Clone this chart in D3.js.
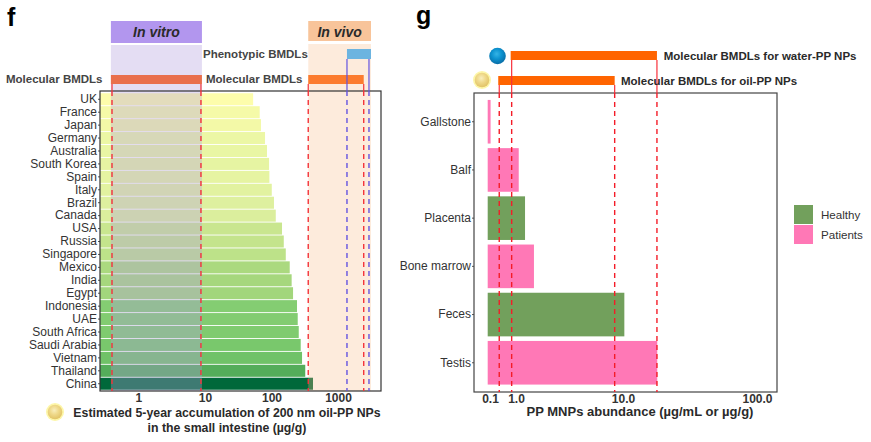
<!DOCTYPE html>
<html lang="en">
<head>
  <meta charset="UTF-8">
  <title>PP NP accumulation and abundance vs BMDLs</title>
  <script src="https://d3js.org/d3.v7.min.js"></script>
  <style>
  html, body { margin: 0; padding: 0; background: #fff; }
  svg { display: block; }
  text { font-family: "Liberation Sans", Arial, sans-serif; }
  .tick text { fill: #333; }
  .bold { font-weight: bold; fill: #2a2a2a; }
  </style>
</head>
<body>
<div id="chart"></div>
<script>
// panel f
var countries = ["UK","France","Japan","Germany","Australia","South Korea","Spain","Italy","Brazil","Canada","USA","Russia","Singapore","Mexico","India","Egypt","Indonesia","UAE","South Africa","Saudi Arabia","Vietnam","Thailand","China"];
var accumulation = [53,66.5,69.5,80,85.6,92,93,101,109,116,144,153,164,188,201,211,242,248,257,275,288,322,421];
var accTicks = [1,10,100,1000];
var colorValues = [53,80,116,144,164,188,211,242,275,288,322,421];
var colorStops = ["#fdfdab","#ecf7a5","#dbee9d","#c9e68f","#bde289","#abd97f","#a2d67c","#84cd72","#79c86c","#70c268","#54ad5a","#00683a"];
var vitroBand = [0.385,9];
var vivoBand = [357,3135];
var vitroMolecular = [0.4,8.7];
var vivoMolecular = [357,2437];
var vivoPhenotypic = [1365,2924];

// panel g
var tissues = ["Gallstone","Balf","Placenta","Bone marrow","Feces","Testis"];
var abundance = [0.12,1.23,1.76,2.51,10.9,33];
var groups = ["Patients","Patients","Healthy","Patients","Healthy","Patients"];
var abundanceTicks = [0.1,1,10,100];
var abundanceLabels = ["0.1","1.0","10.0","100.0"];
var waterBmdl = [0.85,32.8];
var oilBmdl = [0.42,9.3];
var legendGroups = ["Healthy","Patients"];

var w = 871, h = 442;
var red = "#f4333a", purple = "#6353e0";

var svg = d3.select("#chart").append("svg").attr("width", w).attr("height", h);

// little spheres
var defs = svg.append("defs");
function sphere(id, stops) {
  var g = defs.append("radialGradient").attr("id", id).attr("cx", "45%").attr("cy", "38%").attr("r", "60%");
  stops.forEach(function(s, i) {
    g.append("stop").attr("offset", (i / (stops.length - 1) * 100) + "%").attr("stop-color", s);
  });
}
sphere("oil", ["#f9eebc","#efd98a","#e2c468"]);
sphere("water", ["#35b4e6","#0d93d0","#0a6fa8"]);

function drawSphere(cx, cy, id, glow) {
  if (glow) svg.append("circle").attr("cx", cx).attr("cy", cy).attr("r", 9).attr("fill", "#fdf6a8");
  svg.append("circle").attr("cx", cx).attr("cy", cy).attr("r", glow ? 7.3 : 8.3).attr("fill", "url(#" + id + ")");
}

function label(x, y, str, anchor, size, cls) {
  return svg.append("text").attr("x", x).attr("y", y).attr("text-anchor", anchor || "start")
    .attr("font-size", size).attr("class", cls || "bold").text(str);
}

function dashed(x, y0, y1, color) {
  svg.append("line").attr("x1", x).attr("x2", x).attr("y1", y0).attr("y2", y1)
    .attr("stroke", color).attr("stroke-width", 1.4).attr("stroke-dasharray", "5,4");
}
function solid(x, y0, y1, color) {
  svg.append("line").attr("x1", x).attr("x2", x).attr("y1", y0).attr("y2", y1)
    .attr("stroke", color).attr("stroke-width", 1.2);
}

//////////////////// panel f ////////////////////
var fLeft = 100, fRight = 381, fTop = 91, fBottom = 391;
var xF = d3.scaleLog().domain([0.264,4433]).range([fLeft,fRight]);
var yF = d3.scaleBand().domain(countries).range([93,390]).paddingInner(0.07).paddingOuter(0.02);
var colorF = d3.scaleLinear().domain(colorValues).range(colorStops);

svg.append("g").selectAll("rect").data(countries).enter().append("rect")
  .attr("x", fLeft)
  .attr("y", function(d) { return yF(d); })
  .attr("width", function(d, i) { return xF(accumulation[i]) - fLeft; })
  .attr("height", yF.bandwidth())
  .attr("fill", function(d, i) { return colorF(accumulation[i]); });

// shaded in vitro / in vivo ranges run from the header into the panel
svg.append("rect").attr("x", xF(vitroBand[0])).attr("width", xF(vitroBand[1]) - xF(vitroBand[0]))
  .attr("y", 45).attr("height", fBottom - 45).attr("fill", "#b39edc").attr("opacity", 0.35);
svg.append("rect").attr("x", xF(vivoBand[0])).attr("width", xF(vivoBand[1]) - xF(vivoBand[0]))
  .attr("y", 44).attr("height", fBottom - 44).attr("fill", "#f8be8c").attr("opacity", 0.3);

// header boxes
svg.append("rect").attr("x", xF(vitroBand[0])).attr("width", xF(vitroBand[1]) - xF(vitroBand[0]))
  .attr("y", 21).attr("height", 22).attr("fill", "#b296ee");
svg.append("rect").attr("x", xF(vivoBand[0])).attr("width", xF(vivoBand[1]) - xF(vivoBand[0]))
  .attr("y", 21).attr("height", 20).attr("fill", "#f8c49a");
label((xF(vitroBand[0]) + xF(vitroBand[1])) / 2, 37, "In vitro", "middle", 14).attr("font-style", "italic");
label((xF(vivoBand[0]) + xF(vivoBand[1])) / 2, 37, "In vivo", "middle", 14).attr("font-style", "italic");

// BMDL bars
svg.append("rect").attr("x", xF(vitroBand[0])).attr("width", xF(vitroBand[1]) - xF(vitroBand[0]))
  .attr("y", 75).attr("height", 9).attr("fill", "#e96f4c");
svg.append("rect").attr("x", xF(vivoMolecular[0])).attr("width", xF(vivoMolecular[1]) - xF(vivoMolecular[0]))
  .attr("y", 75).attr("height", 9).attr("fill", "#fc7b2e");
svg.append("rect").attr("x", xF(vivoPhenotypic[0])).attr("width", xF(vivoBand[1]) - xF(vivoPhenotypic[0]))
  .attr("y", 49).attr("height", 10).attr("fill", "#6cb4e0");

label(6, 83, "Molecular BMDLs", "start", 11.5).style("fill", "#444");
label(206, 83, "Molecular BMDLs", "start", 11.5).style("fill", "#444");
label(203, 58, "Phenotypic BMDLs", "start", 11.5).style("fill", "#444");

// axes of panel f
var yAxisF = svg.append("g").attr("transform", "translate(" + fLeft + ",0)")
  .call(d3.axisLeft(yF).tickSize(2).tickPadding(1));
yAxisF.select(".domain").remove();
yAxisF.selectAll("text").attr("font-size", 12);
yAxisF.selectAll("line").attr("stroke", "#555");

var xAxisF = svg.append("g").attr("transform", "translate(0," + fBottom + ")")
  .call(d3.axisBottom(xF).tickValues(accTicks).tickFormat(d3.format("d")).tickSize(0).tickPadding(2));
xAxisF.select(".domain").remove();
xAxisF.selectAll("text").attr("font-size", 12).attr("font-weight", "bold").style("fill", "#333");

svg.append("rect").attr("x", fLeft).attr("y", fTop).attr("width", fRight - fLeft).attr("height", fBottom - fTop)
  .attr("fill", "none").attr("stroke", "#333").attr("stroke-width", 1.2);

// range markers
vitroMolecular.concat(vivoMolecular).forEach(function(v) {
  solid(xF(v), 84, fTop, red);
  dashed(xF(v), fTop, fBottom, red);
});
vivoPhenotypic.forEach(function(v) {
  solid(xF(v), 59, fTop, purple);
  dashed(xF(v), fTop, fBottom, purple);
});

drawSphere(55, 412, "oil", true);
label(227, 417, "Estimated 5-year accumulation of 200 nm oil-PP NPs", "middle", 12.3);
label(227, 432, "in the small intestine (µg/g)", "middle", 12.3);

//////////////////// panel g ////////////////////
var gLeft = 474, gRight = 777, gTop = 93, gBottom = 392;
// the printed axis is not uniform, so the scale is piecewise through its tick labels
var xG = d3.scaleLinear().domain([0.02,0.1,1,10,100,113.4]).range([487.7,490,516,623,757,gRight]);
var yG = d3.scaleBand().domain(tissues).range([98,386.5]).paddingInner(0.095).paddingOuter(0.04);
var colorG = d3.scaleOrdinal().domain(legendGroups).range(["#72a05c","#ff78b6"]);

svg.append("g").selectAll("rect").data(tissues).enter().append("rect")
  .attr("x", xG(0.02))
  .attr("y", function(d) { return yG(d); })
  .attr("width", function(d, i) { return xG(abundance[i]) - xG(0.02); })
  .attr("height", yG.bandwidth())
  .attr("fill", function(d, i) { return colorG(groups[i]); });

var yAxisG = svg.append("g").attr("transform", "translate(" + gLeft + ",0)")
  .call(d3.axisLeft(yG).tickSize(2).tickPadding(1));
yAxisG.select(".domain").remove();
yAxisG.selectAll("text").attr("font-size", 12);
yAxisG.selectAll("line").attr("stroke", "#555");

var xAxisG = svg.append("g").attr("transform", "translate(0," + gBottom + ")")
  .call(d3.axisBottom(xG).tickValues(abundanceTicks)
    .tickFormat(function(d, i) { return abundanceLabels[i]; }).tickSize(0).tickPadding(2));
xAxisG.select(".domain").remove();
xAxisG.selectAll("text").attr("font-size", 12).attr("font-weight", "bold").style("fill", "#333");

svg.append("rect").attr("x", gLeft).attr("y", gTop).attr("width", gRight - gLeft).attr("height", gBottom - gTop)
  .attr("fill", "none").attr("stroke", "#444").attr("stroke-width", 1.2);

svg.append("rect").attr("x", xG(waterBmdl[0]) - 1).attr("width", xG(waterBmdl[1]) - xG(waterBmdl[0]) + 1)
  .attr("y", 51).attr("height", 9).attr("fill", "#ff6400");
svg.append("rect").attr("x", xG(oilBmdl[0]) - 1).attr("width", xG(oilBmdl[1]) - xG(oilBmdl[0]) + 1)
  .attr("y", 76).attr("height", 9).attr("fill", "#ff6400");

waterBmdl.forEach(function(v) {
  solid(xG(v), 60, gTop, "#f8303a");
  dashed(xG(v), gTop, gBottom, "#f41c28");
});
oilBmdl.forEach(function(v) {
  solid(xG(v), 85, gTop, "#f8303a");
  dashed(xG(v), gTop, gBottom, "#f41c28");
});

drawSphere(497.5, 56, "water", false);
drawSphere(482, 80, "oil", true);
label(663.7, 60, "Molecular BMDLs for water-PP NPs", "start", 11.5);
label(621, 85, "Molecular BMDLs for oil-PP NPs", "start", 11.5);
label(640, 416, "PP MNPs abundance (µg/mL or µg/g)", "middle", 13);

// legend
var yLegend = d3.scaleBand().domain(legendGroups).range([205,244]).paddingInner(0.05);
legendGroups.forEach(function(d) {
  svg.append("rect").attr("x", 794).attr("y", yLegend(d)).attr("width", 19).attr("height", yLegend.bandwidth())
    .attr("fill", colorG(d));
  label(821, yLegend(d) + yLegend.bandwidth() / 2 + 4, d, "start", 11.6, "plain").style("fill", "#333");
});

// panel letters
label(7, 26, "f", "start", 25).style("fill", "#000");
label(416, 24, "g", "start", 25).style("fill", "#000");
</script>
</body>
</html>
